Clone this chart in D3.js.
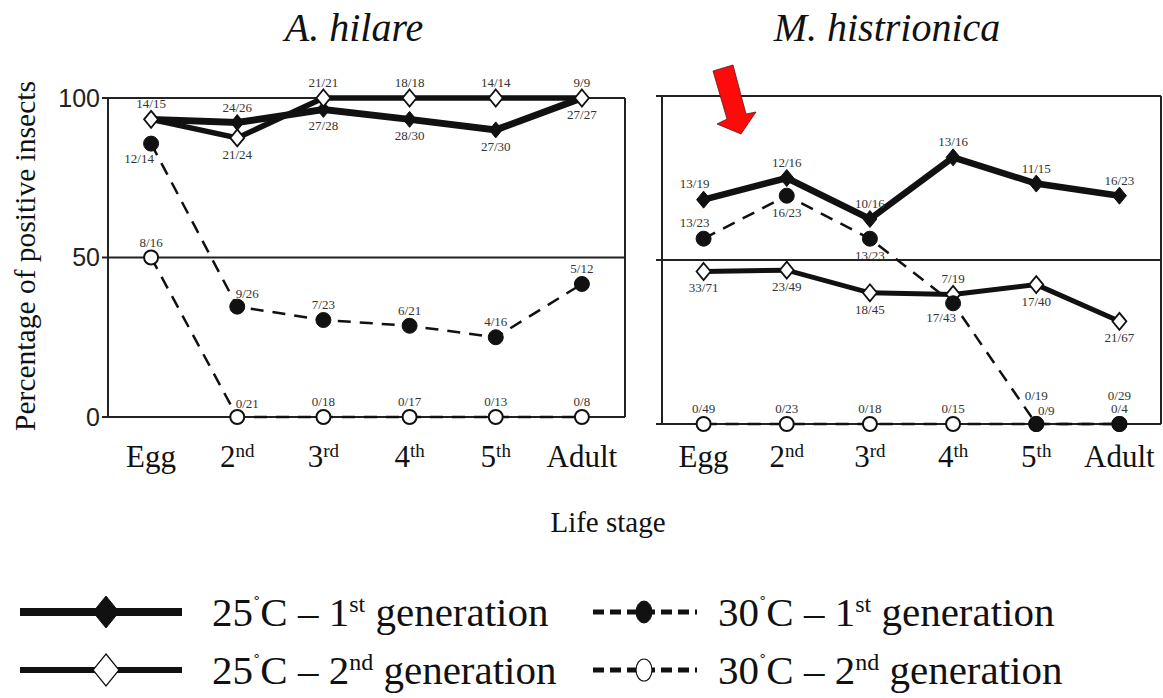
<!DOCTYPE html>
<html>
<head>
<meta charset="utf-8">
<script src="https://cdn.jsdelivr.net/npm/d3@7"></script>
<style>
  body { margin: 0; background: #fff; }
  svg { display: block; }
</style>
</head>
<body>
<div id="chart"></div>
<script>
// life stages on the x axis (base text + superscript)
var stages = ["Egg", "2nd", "3rd", "4th", "5th", "Adult"];
var stageBase = ["Egg", "2", "3", "4", "5", "Adult"];
var stageSup = ["", "nd", "rd", "th", "th", ""];
var yTicks = [0, 50, 100];

// A. hilare - percentage of positive insects
var hilare25g1 = [93.3, 92.3, 96.4, 93.3, 90.0, 100];
var hilare25g2 = [93.3, 87.5, 100, 100, 100, 100];
var hilare30g1 = [85.7, 34.6, 30.4, 28.6, 25.0, 41.7];
var hilare30g2 = [50, 0, 0, 0, 0, 0];
var hilare25g1Lab = ["", "24/26", "27/28", "28/30", "27/30", "27/27"];
var hilare25g2Lab = ["14/15", "21/24", "21/21", "18/18", "14/14", "9/9"];
var hilare30g1Lab = ["12/14", "9/26", "7/23", "6/21", "4/16", "5/12"];
var hilare30g2Lab = ["8/16", "0/21", "0/18", "0/17", "0/13", "0/8"];

// M. histrionica - percentage of positive insects
var histrio25g1 = [68.4, 75.0, 62.5, 81.3, 73.3, 69.6];
var histrio25g2 = [46.5, 46.9, 40.0, 39.5, 42.5, 31.3];
var histrio30g1 = [56.5, 69.6, 56.5, 36.8, 0, 0];
var histrio30g2 = [0, 0, 0, 0, 0, 0];
var histrio25g1Lab = ["13/19", "12/16", "10/16", "13/16", "11/15", "16/23"];
var histrio25g2Lab = ["33/71", "23/49", "18/45", "7/19", "17/40", "21/67"];
var histrio30g1Lab = ["13/23", "16/23", "13/23", "17/43", "0/9", "0/4"];
var histrio30g2Lab = ["0/49", "0/23", "0/18", "0/15", "0/19", "0/29"];

// where each label sits relative to its marker (layout only)
var hilareSide = {
  g1_25: ["", "t", "b", "b", "b", "b"],
  g2_25: ["t", "b", "t", "t", "t", "t"],
  g1_30: ["bl", "tr", "t", "t", "t", "t"],
  g2_30: ["t", "tr", "t", "t", "t", "t"]
};
var histrioSide = {
  g1_25: ["tl", "t", "t", "t", "t", "t"],
  g2_25: ["b", "b", "b", "t", "b", "b"],
  g1_30: ["tl", "b", "b", "bl", "tr", "t"],
  g2_30: ["t", "t", "t", "t", "tt", "tt"]
};
var sideOffset = {
  t: [0, -11], b: [0, 21], tl: [-9, -12], tr: [10, -9], bl: [-12, 19], tt: [0, -24]
};

var W = 1163, H = 698;
var serif = "'Liberation Serif', 'Times New Roman', serif";
var sans = "'Liberation Sans', Arial, sans-serif";
var ink = "#111";

var svg = d3.select("#chart").append("svg")
    .attr("width", W)
    .attr("height", H)
    .attr("viewBox", "0 0 " + W + " " + H);
svg.append("rect").attr("width", W).attr("height", H).attr("fill", "#fff");

function diamond(hw, hh) {
  return "M0," + (-hh) + "L" + hw + ",0L0," + hh + "L" + (-hw) + ",0Z";
}

function drawPanel(cfg) {
  var x = d3.scalePoint().domain(stages).range([cfg.x0, cfg.x1]).padding(0.5);
  var y = d3.scaleLinear().domain([0, 100]).range([cfg.y0, cfg.y1]);
  var g = svg.append("g");

  // frame + reference lines
  var frame = g.append("g").attr("stroke", "#222").attr("stroke-width", 2).attr("fill", "none");
  frame.selectAll("line.h")
    .data(yTicks)
    .enter().append("line")
      .attr("x1", cfg.x0 - 6).attr("x2", cfg.x1)
      .attr("y1", function(d) { return y(d); })
      .attr("y2", function(d) { return y(d); });
  frame.append("line").attr("x1", cfg.x0).attr("x2", cfg.x0).attr("y1", y(100)).attr("y2", y(0));
  frame.append("line").attr("x1", cfg.x1).attr("x2", cfg.x1).attr("y1", y(100)).attr("y2", y(0));

  if (cfg.showTicks) {
    g.append("g")
      .attr("transform", "translate(" + (cfg.x0 - 6) + ",0)")
      .call(d3.axisLeft(y).tickValues(yTicks).tickSize(0).tickPadding(2))
      .call(function(a) { a.select(".domain").remove(); })
      .selectAll("text")
        .attr("font-family", sans)
        .attr("font-size", 25)
        .attr("fill", "#222");
  }

  // stage labels
  var xl = g.append("g").selectAll("text")
    .data(stages)
    .enter().append("text")
      .attr("x", function(d) { return x(d); })
      .attr("y", 467)
      .attr("text-anchor", "middle")
      .attr("font-family", serif)
      .attr("font-size", 31)
      .attr("fill", ink);
  xl.append("tspan").text(function(d, i) { return stageBase[i]; });
  xl.append("tspan")
    .attr("dy", -10)
    .attr("font-size", 19)
    .text(function(d, i) { return stageSup[i]; });

  // title
  g.append("text")
    .attr("x", cfg.titleX)
    .attr("y", 41)
    .attr("text-anchor", "middle")
    .attr("font-family", serif)
    .attr("font-style", "italic")
    .attr("font-size", 40)
    .attr("fill", ink)
    .text(cfg.title);

  var line = d3.line()
    .x(function(d, i) { return x(stages[i]); })
    .y(function(d) { return y(d); });

  cfg.series.forEach(function(s) {
    g.append("path")
      .datum(s.values)
      .attr("d", line)
      .attr("fill", "none")
      .attr("stroke", ink)
      .attr("stroke-width", s.width)
      .attr("stroke-linejoin", "miter")
      .attr("stroke-dasharray", s.dash ? "13,9" : null);
  });

  cfg.series.forEach(function(s) {
    var m = g.append("g").selectAll(".m")
      .data(s.values)
      .enter().append("path")
        .attr("transform", function(d, i) { return "translate(" + x(stages[i]) + "," + y(d) + ")"; })
        .attr("stroke", ink);
    if (s.marker === "diamond") {
      m.attr("d", diamond(s.size, s.size + 1.5))
        .attr("fill", s.filled ? ink : "#fff")
        .attr("stroke-width", s.filled ? 1 : 1.8);
    } else {
      m.attr("d", d3.arc()({innerRadius: 0, outerRadius: s.size, startAngle: 0, endAngle: 2 * Math.PI}))
        .attr("fill", s.filled ? ink : "#fff")
        .attr("stroke-width", s.filled ? 1 : 2);
    }
  });

  cfg.series.forEach(function(s) {
    g.append("g").selectAll("text")
      .data(s.labels)
      .enter().append("text")
        .attr("x", function(d, i) { var o = sideOffset[s.side[i]] || [0, 0]; return x(stages[i]) + o[0]; })
        .attr("y", function(d, i) { var o = sideOffset[s.side[i]] || [0, 0]; return y(s.values[i]) + o[1]; })
        .attr("text-anchor", "middle")
        .attr("font-family", serif)
        .attr("font-size", 13)
        .attr("fill", "#333")
        .text(function(d) { return d; });
  });
  return {x: x, y: y};
}

drawPanel({
  x0: 108, x1: 625, y0: 417, y1: 98, showTicks: true,
  title: "A. hilare", titleX: 354,
  series: [
    {values: hilare30g2, labels: hilare30g2Lab, side: hilareSide.g2_30, marker: "circle", filled: false, size: 7, width: 2.5, dash: true},
    {values: hilare30g1, labels: hilare30g1Lab, side: hilareSide.g1_30, marker: "circle", filled: true, size: 7.5, width: 2.5, dash: true},
    {values: hilare25g1, labels: hilare25g1Lab, side: hilareSide.g1_25, marker: "diamond", filled: true, size: 6.5, width: 7, dash: false},
    {values: hilare25g2, labels: hilare25g2Lab, side: hilareSide.g2_25, marker: "diamond", filled: false, size: 7, width: 5.5, dash: false}
  ]
});

drawPanel({
  x0: 662, x1: 1161, y0: 424, y1: 96, showTicks: false,
  title: "M. histrionica", titleX: 887,
  series: [
    {values: histrio30g2, labels: histrio30g2Lab, side: histrioSide.g2_30, marker: "circle", filled: false, size: 7, width: 2.5, dash: true},
    {values: histrio25g2, labels: histrio25g2Lab, side: histrioSide.g2_25, marker: "diamond", filled: false, size: 7, width: 5, dash: false},
    {values: histrio30g1, labels: histrio30g1Lab, side: histrioSide.g1_30, marker: "circle", filled: true, size: 7.5, width: 2.5, dash: true},
    {values: histrio25g1, labels: histrio25g1Lab, side: histrioSide.g1_25, marker: "diamond", filled: true, size: 7, width: 6.5, dash: false}
  ]
});

// red arrow annotation
svg.append("path")
  .attr("d", "M713,71L733,65L746,114L756,112L741,134L717,124L727,119Z")
  .attr("fill", "#ff0a0a")
  .attr("stroke", "#5a1a1a")
  .attr("stroke-width", 0.8);

// axis titles
svg.append("text")
  .attr("transform", "translate(35,256) rotate(-90)")
  .attr("text-anchor", "middle")
  .attr("font-family", serif)
  .attr("font-size", 29.5)
  .attr("fill", ink)
  .text("Percentage of positive insects");

svg.append("text")
  .attr("x", 608)
  .attr("y", 532)
  .attr("text-anchor", "middle")
  .attr("font-family", serif)
  .attr("font-size", 29)
  .attr("fill", ink)
  .text("Life stage");

// legend
var legendItems = [
  {temp: "25", gen: "1", sup: "st", col: 0, row: 0, marker: "diamond", filled: true},
  {temp: "30", gen: "1", sup: "st", col: 1, row: 0, marker: "circle", filled: true},
  {temp: "25", gen: "2", sup: "nd", col: 0, row: 1, marker: "diamond", filled: false},
  {temp: "30", gen: "2", sup: "nd", col: 1, row: 1, marker: "circle", filled: false}
];
var legCols = [{lx0: 20, lx1: 182, mx: 106, tx: 212}, {lx0: 593, lx1: 697, mx: 644, tx: 718}];
var legRows = [612, 670];

var leg = svg.append("g").selectAll("g")
  .data(legendItems)
  .enter().append("g");

leg.append("line")
  .attr("x1", function(d) { return legCols[d.col].lx0; })
  .attr("x2", function(d) { return legCols[d.col].lx1; })
  .attr("y1", function(d) { return legRows[d.row]; })
  .attr("y2", function(d) { return legRows[d.row]; })
  .attr("stroke", ink)
  .attr("stroke-width", function(d) { return d.marker === "diamond" ? (d.filled ? 8 : 6) : 5; })
  .attr("stroke-dasharray", function(d) { return d.marker === "circle" ? "11,6" : null; });

leg.append("path")
  .attr("transform", function(d) { return "translate(" + legCols[d.col].mx + "," + legRows[d.row] + ")"; })
  .attr("d", function(d) {
    if (d.marker === "diamond") return diamond(13, 16);
    return "M0,-11A8,11 0 1,1 0,11A8,11 0 1,1 0,-11Z";
  })
  .attr("fill", function(d) { return d.filled ? ink : "#fff"; })
  .attr("stroke", ink)
  .attr("stroke-width", function(d) { return d.filled ? 1 : 1.2; });

var lt = leg.append("text")
  .attr("x", function(d) { return legCols[d.col].tx; })
  .attr("y", function(d) { return legRows[d.row] + 14; })
  .attr("font-family", serif)
  .attr("font-size", 41)
  .attr("fill", ink);
lt.append("tspan").text(function(d) { return d.temp; });
lt.append("tspan").attr("dy", -15).attr("font-size", 22).text("\u02DA");
lt.append("tspan").attr("dy", 15).text("C \u2013 ");
lt.append("tspan").text(function(d) { return d.gen; });
lt.append("tspan").attr("dy", -14).attr("font-size", 24).text(function(d) { return d.sup; });
lt.append("tspan").attr("dy", 14).text(" generation");
</script>
</body>
</html>
